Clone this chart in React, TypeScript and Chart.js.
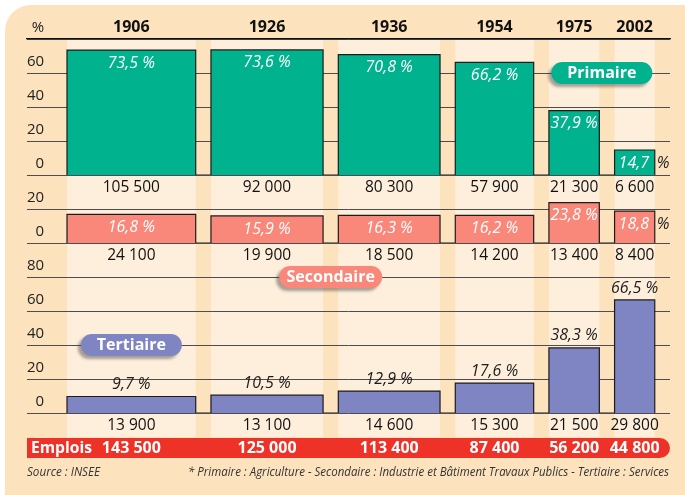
import React, { useEffect, useRef } from 'react';
import { Chart, registerables } from 'chart.js';

Chart.register(...registerables);

// ---------- data ----------
const YEARS = ['1906', '1926', '1936', '1954', '1975', '2002'];
const TOTAL_JOBS = [143500, 125000, 113400, 87400, 56200, 44800];
const PRIMARY_PCT = [73.5, 73.6, 70.8, 66.2, 37.9, 14.7];
const SECONDARY_PCT = [16.8, 15.9, 16.3, 16.2, 23.8, 18.8];
const TERTIARY_PCT = [9.7, 10.5, 12.9, 17.6, 38.3, 66.5];
const PRIMARY_JOBS = [105500, 92000, 80300, 57900, 21300, 6600];
const SECONDARY_JOBS = [24100, 19900, 18500, 14200, 13400, 8400];
const TERTIARY_JOBS = [13900, 13100, 14600, 15300, 21500, 29800];

const PRIMARY_TICKS = [0, 20, 40, 60, 80];
const PRIMARY_TICK_LABELS = ['0', '20', '40', '60', '%'];
const SECONDARY_TICKS = [0, 20, 40];
const SECONDARY_TICK_LABELS = ['0', '20', ''];
const TERTIARY_TICKS = [0, 20, 40, 60, 80, 100];
const TERTIARY_TICK_LABELS = ['0', '20', '40', '60', '80', ''];

const SECTOR_NAMES = ['Primaire', 'Secondaire', 'Tertiaire'];
const TOTAL_LABEL = 'Emplois';
const SOURCE_TEXT = 'Source : INSEE';
const NOTE_TEXT =
  '* Primaire : Agriculture - Secondaire : Industrie et Bâtiment Travaux Publics - Tertiaire : Services';

// ---------- layout / style ----------
const GAP_JOBS = 17000; // gap between columns, in x-axis units
const X_MIN = -44600;
const X_RIGHT_PAD = 17000;

const FAMILY = '"Open Sans", "Noto Sans", sans-serif';
const C_PEACH = '#FDE3BD';
const C_LIGHT = '#FEEFDC';
const C_TEAL = '#00B28E';
const C_SALMON = '#F9877A';
const C_PURPLE = '#7F85C2';
const C_RED = '#EE3228';
const C_DARK = '#1c1c1c';
const C_GRID = '#4d4d4d';

const STARTS: number[] = [];
const ENDS: number[] = [];
{
  let acc = 0;
  TOTAL_JOBS.forEach((v, i) => {
    STARTS.push(acc + i * GAP_JOBS);
    acc += v;
    ENDS.push(acc + i * GAP_JOBS);
  });
}
const CENTERS = STARTS.map((s, i) => (s + ENDS[i]) / 2);
const X_MAX = ENDS[ENDS.length - 1] + X_RIGHT_PAD;

const fmtInt = (n: number) => String(n).replace(/\B(?=(\d{3})+(?!\d))/g, ' ');
const fmtNum = (v: number) => v.toFixed(1).replace('.', ',');
const fmtPct = (v: number) => fmtNum(v) + ' %';

function stepPoints(pcts: number[]) {
  const pts = [{ x: STARTS[0], y: 0 }];
  pcts.forEach((v, i) => {
    pts.push({ x: STARTS[i], y: v });
    pts.push({ x: ENDS[i], y: 0 });
  });
  return pts;
}

function text(
  ctx: CanvasRenderingContext2D,
  s: string,
  x: number,
  y: number,
  font: string,
  color: string,
  align: CanvasTextAlign = 'center',
  maxW?: number
) {
  ctx.font = font;
  ctx.fillStyle = color;
  ctx.textAlign = align;
  ctx.textBaseline = 'middle';
  if (maxW) ctx.fillText(s, x, y, maxW);
  else ctx.fillText(s, x, y);
}

function pill(ctx: CanvasRenderingContext2D, cx: number, cy: number, w: number, h: number, color: string, label: string) {
  const r = h / 2;
  const l = cx - w / 2;
  const t = cy - h / 2;
  ctx.save();
  ctx.shadowColor = 'rgba(60,60,60,0.45)';
  ctx.shadowBlur = 3;
  ctx.shadowOffsetX = -3;
  ctx.shadowOffsetY = 3;
  ctx.beginPath();
  ctx.moveTo(l + r, t);
  ctx.lineTo(l + w - r, t);
  ctx.arc(l + w - r, t + r, r, -Math.PI / 2, Math.PI / 2);
  ctx.lineTo(l + r, t + h);
  ctx.arc(l + r, t + r, r, Math.PI / 2, (3 * Math.PI) / 2);
  ctx.closePath();
  ctx.fillStyle = color;
  ctx.fill();
  ctx.restore();
  text(ctx, label, cx, cy + 0.5, `bold 16px ${FAMILY}`, '#ffffff');
}

const decorPlugin = {
  id: 'decor',
  beforeDraw(chart: any) {
    const ctx: CanvasRenderingContext2D = chart.ctx;
    const xs = chart.scales.x;
    const area = chart.chartArea;
    ctx.save();
    ctx.fillStyle = C_LIGHT;
    STARTS.forEach((s, i) => {
      const l = xs.getPixelForValue(s);
      const r = xs.getPixelForValue(ENDS[i]);
      ctx.fillRect(l, area.top, r - l, area.bottom + 24 - area.top);
    });
    ctx.restore();
  },
  afterDraw(chart: any) {
    const ctx: CanvasRenderingContext2D = chart.ctx;
    const xs = chart.scales.x;
    const yP = chart.scales.yP;
    const yS = chart.scales.yS;
    const yT = chart.scales.yT;
    const area = chart.chartArea;
    const PCT_FONT = `italic 16px ${FAMILY}`;
    const NUM_FONT = `15.5px ${FAMILY}`;
    ctx.save();

    const inside = (scale: any, pcts: number[]) => {
      pcts.forEach((v, i) => {
        const l = xs.getPixelForValue(STARTS[i]);
        const r = xs.getPixelForValue(ENDS[i]);
        const y = scale.getPixelForValue(v) + 13;
        ctx.font = PCT_FONT;
        const s = fmtPct(v);
        const w = ctx.measureText(s).width;
        if (w <= r - l) {
          text(ctx, s, (l + r) / 2, y, PCT_FONT, '#ffffff');
        } else {
          text(ctx, fmtNum(v), l + 4, y, PCT_FONT, '#ffffff', 'left');
          text(ctx, '%', r + 2, y, PCT_FONT, C_DARK, 'left');
        }
      });
    };
    inside(yP, PRIMARY_PCT);
    inside(yS, SECONDARY_PCT);

    TERTIARY_PCT.forEach((v, i) => {
      const c = xs.getPixelForValue(CENTERS[i]);
      text(ctx, fmtPct(v), c, yT.getPixelForValue(v) - 12, PCT_FONT, C_DARK);
    });

    const rows: [any, number[]][] = [
      [yP, PRIMARY_JOBS],
      [yS, SECONDARY_JOBS],
      [yT, TERTIARY_JOBS],
    ];
    rows.forEach(([scale, jobs]) => {
      const y = scale.getPixelForValue(0) + 12.5;
      jobs.forEach((n, i) => {
        text(ctx, fmtInt(n), xs.getPixelForValue(CENTERS[i]), y, NUM_FONT, '#111111');
      });
    });

    // sector badges
    pill(
      ctx,
      (xs.getPixelForValue(STARTS[4]) + xs.getPixelForValue(ENDS[5])) / 2,
      yP.getPixelForValue(60),
      101,
      22,
      C_TEAL,
      SECTOR_NAMES[0]
    );
    pill(
      ctx,
      (xs.getPixelForValue(ENDS[1]) + xs.getPixelForValue(STARTS[2])) / 2,
      yT.getPixelForValue(80),
      103,
      22,
      C_SALMON,
      SECTOR_NAMES[1]
    );
    pill(ctx, xs.getPixelForValue(CENTERS[0]), yT.getPixelForValue(40), 101, 22, C_PURPLE, SECTOR_NAMES[2]);

    // Emplois band
    const bt = area.bottom + 25;
    const bh = 20;
    const br = bh / 2;
    const bl = area.left;
    const brt = area.right;
    ctx.beginPath();
    ctx.moveTo(bl, bt);
    ctx.lineTo(brt - br, bt);
    ctx.arc(brt - br, bt + br, br, -Math.PI / 2, Math.PI / 2);
    ctx.lineTo(bl, bt + bh);
    ctx.closePath();
    ctx.fillStyle = C_RED;
    ctx.fill();
    const BOLD = `bold 16px ${FAMILY}`;
    text(ctx, TOTAL_LABEL, bl + 4, bt + bh / 2, BOLD, '#ffffff', 'left', 61);
    TOTAL_JOBS.forEach((n, i) => {
      text(ctx, fmtInt(n), xs.getPixelForValue(CENTERS[i]), bt + bh / 2, BOLD, '#ffffff');
    });

    // footer
    const fy = bt + bh + 14;
    const SMALL = `italic 13px ${FAMILY}`;
    text(ctx, SOURCE_TEXT, area.left, fy, SMALL, '#333333', 'left', 73);
    text(ctx, NOTE_TEXT, area.right - 1, fy, SMALL, '#333333', 'right', 481);
    ctx.restore();
  },
};

function yAxis(ticks: number[], labels: string[], max: number, weight: number, stackWeight: number) {
  return {
    type: 'linear',
    position: 'left',
    stack: 'panels',
    stackWeight,
    weight,
    min: 0,
    max,
    offset: false,
    border: { display: false },
    grid: { color: C_GRID, lineWidth: 1, drawTicks: false },
    afterBuildTicks: (s: any) => {
      s.ticks = ticks.map((v) => ({ value: v }));
    },
    afterFit: (s: any) => {
      s.width = 0;
    },
    ticks: {
      autoSkip: false,
      mirror: true,
      crossAlign: 'far',
      padding: 0,
      labelOffset: -11,
      color: '#222222',
      font: { family: FAMILY, size: 15 },
      callback: (_v: any, i: number) => labels[i],
    },
  };
}

export default function App() {
  const ref = useRef<HTMLCanvasElement | null>(null);
  useEffect(() => {
    document.body.style.margin = '0';
    if (!ref.current) return;
    const chart = new Chart(ref.current, {
      type: 'line',
      data: {
        datasets: [
          { data: stepPoints(PRIMARY_PCT), yAxisID: 'yP', backgroundColor: C_TEAL },
          { data: stepPoints(SECONDARY_PCT), yAxisID: 'yS', backgroundColor: C_SALMON },
          { data: stepPoints(TERTIARY_PCT), yAxisID: 'yT', backgroundColor: C_PURPLE },
        ].map((d) => ({
          ...d,
          xAxisID: 'x',
          stepped: true,
          fill: 'origin',
          borderColor: C_DARK,
          borderWidth: 1.2,
          pointRadius: 0,
          tension: 0,
        })),
      },
      options: {
        animation: false,
        responsive: false,
        devicePixelRatio: 1,
        events: [],
        layout: { padding: { left: 27, right: 15, top: 0, bottom: 82 } },
        plugins: { legend: { display: false }, tooltip: { enabled: false } },
        scales: {
          x: {
            type: 'linear',
            position: 'top',
            min: X_MIN,
            max: X_MAX,
            offset: false,
            grid: { display: false, drawTicks: false },
            border: { display: true, color: '#111111', width: 1.2 },
            afterBuildTicks: (s: any) => {
              s.ticks = CENTERS.map((v) => ({ value: v }));
            },
            afterFit: (s: any) => {
              s.height = 39;
            },
            ticks: {
              autoSkip: false,
              maxRotation: 0,
              padding: 2,
              color: '#111111',
              font: { family: FAMILY, size: 16, weight: 'bold' },
              callback: (_v: any, i: number) => YEARS[i],
            },
          },
          yP: yAxis(PRIMARY_TICKS, PRIMARY_TICK_LABELS, 80, 3, 80),
          yS: yAxis(SECONDARY_TICKS, SECONDARY_TICK_LABELS, 40, 2, 40),
          yT: yAxis(TERTIARY_TICKS, TERTIARY_TICK_LABELS, 100, 1, 100),
        } as any,
      },
      plugins: [decorPlugin],
    } as any);
    return () => chart.destroy();
  }, []);

  return (
    <div style={{ position: 'relative', width: 685, height: 495, background: '#ffffff', overflow: 'hidden' }}>
      <div
        style={{
          position: 'absolute',
          left: 5,
          top: 5,
          right: 0,
          bottom: 0,
          background: C_PEACH,
          borderTopLeftRadius: 26,
        }}
      />
      <canvas ref={ref} width={685} height={495} style={{ position: 'absolute', left: 0, top: 0 }} />
    </div>
  );
}
